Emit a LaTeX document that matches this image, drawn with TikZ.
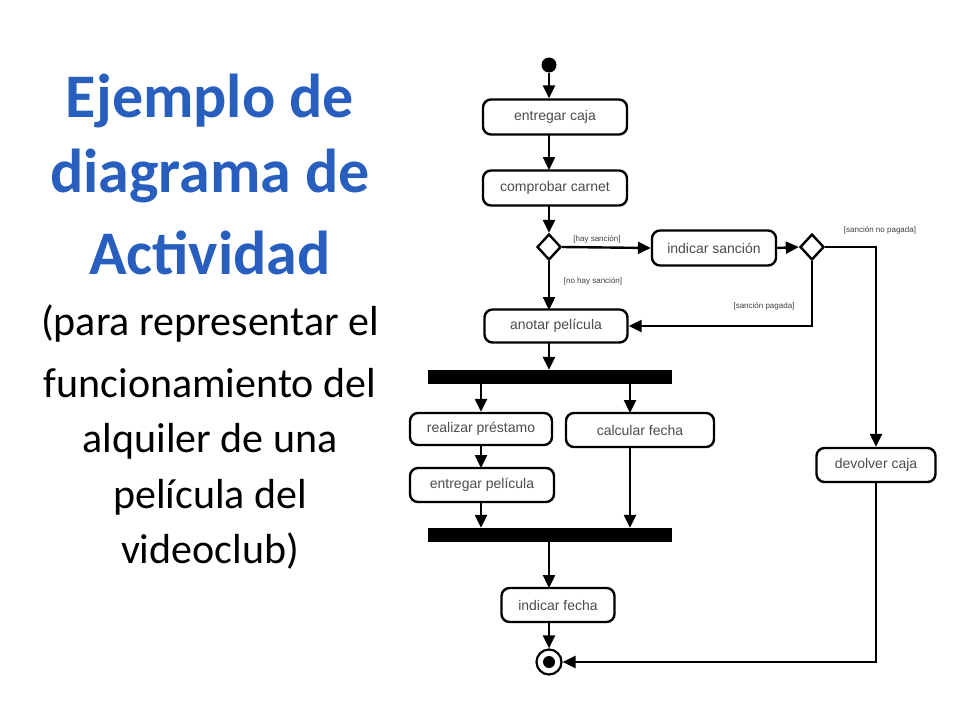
\documentclass[tikz,border=0pt]{standalone}
\usepackage{fontspec}
\setmainfont{Carlito}
\newfontfamily\dfont{Liberation Sans}
\usetikzlibrary{shapes.geometric,arrows.meta}
\definecolor{ttl}{RGB}{40,95,190}
\begin{document}
\begin{tikzpicture}[x=1pt,y=-1pt,
  act/.style={draw,line width=2.4pt,rounded corners=8pt,inner sep=0pt,font=\dfont\fontsize{14}{16}\selectfont,text=black!70},
  dec/.style={draw,line width=2.4pt,diamond,minimum width=24pt,minimum height=26pt,inner sep=0pt},
  bar/.style={fill=black,inner sep=0pt,minimum width=244pt,minimum height=14pt},
  flow/.style={line width=2.4pt,-{Triangle[length=13pt,width=12pt]}},
  lbl/.style={font=\dfont\fontsize{8}{9}\selectfont,text=black!75},
  ttlsty/.style={font=\fontsize{62}{64}\selectfont\bfseries,text=ttl},
  body/.style={font=\fontsize{42}{44}\selectfont}]
\useasboundingbox (0,0) rectangle (960,720);
\fill[white] (0,0) rectangle (960,720);
% title
\node[ttlsty] (t1) at (210,101) {Ejemplo de};
\node[ttlsty] (t2) at (210,176) {diagrama de};
\node[ttlsty] (t3) at (210,253) {Actividad};
\node[body] (b1) at (210,324) {(para representar el};
\node[body] (b2) at (210,383) {funcionamiento del};
\node[body] (b3) at (210,441) {alquiler de una};
\node[body] (b4) at (210,497) {película del};
\node[body] (b5) at (210,551) {videoclub)};
% diagram
\node[circle,fill=black,minimum size=15pt,inner sep=0pt] (s) at (549,65) {};
\node[act,minimum width=144pt,minimum height=35pt] (a1) at (555,117) {entregar caja};
\node[act,minimum width=144pt,minimum height=35pt] (a2) at (555,188) {comprobar carnet};
\node[dec] (d1) at (549,247) {};
\node[act,minimum width=124pt,minimum height=35pt] (a3) at (714,248) {indicar sanción};
\node[dec] (d2) at (812,247) {};
\node[act,minimum width=143pt,minimum height=33pt] (a4) at (556,326) {anotar película};
\node[bar] (f1) at (550,377) {};
\node[act,minimum width=142pt,minimum height=32pt] (a5) at (481,429) {realizar préstamo};
\node[act,minimum width=148pt,minimum height=34pt] (a6) at (640,430) {calcular fecha};
\node[act,minimum width=144pt,minimum height=34pt] (a7) at (482,485) {entregar película};
\node[bar] (f2) at (550,535) {};
\node[act,minimum width=113pt,minimum height=34pt] (a8) at (558,605) {indicar fecha};
\node[act,minimum width=119pt,minimum height=34pt] (a9) at (876,465) {devolver caja};
\node[circle,draw,line width=2.2pt,minimum size=25pt,inner sep=0pt] (e) at (549,662) {};
\node[circle,fill=black,minimum size=12pt,inner sep=0pt] (ei) at (549,662) {};
\coordinate (c1) at (876,247);
\coordinate (c2) at (812,326);
\coordinate (c3) at (876,662);
\draw[flow] (s) -- (s |- a1.north);
\draw[flow] (549,135) -- (549,170);
\draw[flow] (549,205) -- (d1.north);
\draw[flow] (d1.east) -- (a3.west);
\draw[flow] (a3.east) -- (d2.west);
\draw[flow] (d1.south) -- (549,310);
\draw[flow] (d2.south) -- (c2) -- (a4.east);
\draw[flow] (d2.east) -- (c1) -- (a9.north);
\draw[flow] (a9.south) -- (c3) -- (e.east);
\draw[flow] (549,343) -- (f1.north -| 549,0);
\draw[flow] (f1.south -| 481,0) -- (a5.north);
\draw[flow] (f1.south -| 630,0) -- (630,413);
\draw[flow] (a5.south) -- (481,468);
\draw[flow] (481,502) -- (f2.north -| 481,0);
\draw[flow] (630,447) -- (f2.north -| 630,0);
\draw[flow] (f2.south -| 549,0) -- (549,588);
\draw[flow] (549,622) -- (e.north);
\node[lbl] (l1) at (597,239) {[hay sanción]};
\node[lbl] (l2) at (593,281) {[no hay sanción]};
\node[lbl] (l3) at (880,230) {[sanción no pagada]};
\node[lbl] (l4) at (764,306) {[sanción pagada]};
\end{tikzpicture}
\end{document}
